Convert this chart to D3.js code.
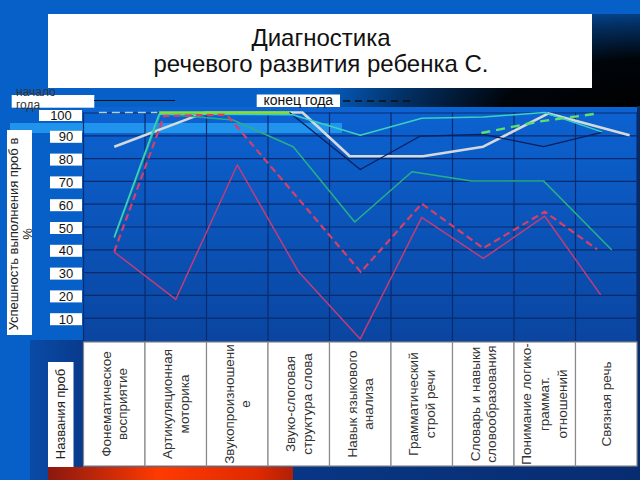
<!DOCTYPE html>
<html><head><meta charset="utf-8">
<script src="https://cdn.jsdelivr.net/npm/d3@7"></script>
<style>html,body{margin:0;padding:0;background:#0660c8;} svg{display:block;font-family:"Liberation Sans",Arial,sans-serif;}</style>
</head><body><svg id="c" width="640" height="480"></svg>
<script>
const titleLines = ["Диагностика", "речевого развития ребенка С."];
const categories = [
  ["Фонематическое","восприятие"],
  ["Артикуляционная","моторика"],
  ["Звукопроизношени","е"],
  ["Звуко-слоговая","структура слова"],
  ["Навык языкового","анализа"],
  ["Грамматический","строй речи"],
  ["Словарь и навыки","словообразования"],
  ["Понимание логико-","граммат.","отношений"],
  ["Связная речь"]
];
const yTicks = [100,90,80,70,60,50,40,30,20,10];
const yTitle = ["Успешность выполнения проб в", "%"];
const xTitle = "Названия проб";
const legendStart = ["начало", "года"];
const legendEnd = "конец года";

// series values: [category position, percent]
const redSolid    = [[0,38.8],[1,18],[2,77],[3,30],[4,0.7],[5,54],[6,36],[7,54.5],[7.91,20]];
const redDashed   = [[0,39],[0.81,98.5],[1.83,99],[4.01,30],[5,60],[6,40.5],[7,56.5],[7.85,40]];
const turquoise   = [[0,45.4],[0.73,99.3],[2.9,99],[4,90],[5,97.5],[6,98],[7,100],[7.93,91.5]];
const seaGreen    = [[0,45],[0.75,99.5],[1.93,96.7],[2.91,85],[3.91,52],[4.84,74],[5.81,70],[6.98,70],[8.09,39.7]];
const navyLine    = [[1.5,100],[2.85,100],[4,75],[4.97,89.6],[6,90.4],[6.98,85],[7.93,91.3]];
const whiteLine   = [[0,85],[1.32,98.4],[1.5,100],[3.06,100],[3.83,80.8],[5.02,80.8],[6,85],[7.06,99.6],[8.38,90]];
const limeTop     = [[0.73,100],[2.85,100]];
const paleDashed  = [[-0.25,100],[0.7,100]];
const greenDashed = [[5.97,91],[6.9,96],[7.87,99.6]];

const svg = d3.select("#c");
const defs = svg.append("defs");

function linGrad(id, x1,y1,x2,y2, stops){
  const g = defs.append("linearGradient").attr("id",id)
    .attr("x1",x1).attr("y1",y1).attr("x2",x2).attr("y2",y2);
  stops.forEach(s=>g.append("stop").attr("offset",s[0]).attr("stop-color",s[1]).attr("stop-opacity", s[2]==null?1:s[2]));
}
linGrad("plotBg","0","0","0","1",[[0,"#0c63d2"],[1,"#0a45a0"]]);
linGrad("lowBg","0","0","1","0",[[0,"#083d92"],[1,"#082c70"]]);
linGrad("leftLow","0","0","1","0",[[0,"#0a4ba6"],[1,"#083a8c"]]);
linGrad("redStrip","0","0","1","0",[[0,"#8a1810"],[0.45,"#ff3a00"],[0.85,"#e02a00"],[1,"#b02008"]]);
const rg = defs.append("radialGradient").attr("id","dark")
  .attr("gradientUnits","userSpaceOnUse").attr("cx",655).attr("cy",110).attr("r",340)
  .attr("gradientTransform","translate(655,110) scale(1,0.34) translate(-655,-110)");
[[0,1],[0.45,0.95],[0.75,0.5],[1,0]].forEach(s=>rg.append("stop").attr("offset",s[0]).attr("stop-color","#000").attr("stop-opacity",s[1]));

// background
svg.append("rect").attr("width",640).attr("height",480).attr("fill","#0660c8");
svg.append("rect").attr("x",0).attr("y",14).attr("width",640).attr("height",98).attr("fill","url(#dark)");
svg.append("rect").attr("x",30).attr("y",340).attr("width",54).attr("height",140).attr("fill","url(#leftLow)");
svg.append("rect").attr("x",84).attr("y",340).attr("width",556).attr("height",140).attr("fill","url(#lowBg)");
svg.append("rect").attr("x",637).attr("y",106).attr("width",3).attr("height",240).attr("fill","#0a2a66");
svg.append("rect").attr("x",48).attr("y",467).attr("width",245).attr("height",13).attr("fill","url(#redStrip)");

// title
svg.append("rect").attr("x",48).attr("y",14).attr("width",544).attr("height",74).attr("fill","#fff");
svg.append("g").selectAll("text").data(titleLines).join("text")
  .attr("x",321).attr("y",(d,i)=>46+i*26).attr("text-anchor","middle")
  .attr("font-size",24).attr("fill","#111").text(d=>d);

// scales
const x = d3.scaleBand().domain(d3.range(categories.length)).range([83.5,637]);
const bw = x.bandwidth();
const xi = d3.scaleLinear().domain([0,categories.length-1]).range([x(0)+bw/2, x(categories.length-1)+bw/2]);
const y = d3.scaleLinear().domain([0,100]).range([340.5,112.5]);

// plot background
svg.append("rect").attr("x",83.5).attr("y",107).attr("width",637-83.5).attr("height",234).attr("fill","url(#plotBg)");
// highlight band
svg.append("rect").attr("x",10).attr("y",123).attr("width",332).attr("height",10).attr("fill","#2094ec");

// grid
const grid = svg.append("g").attr("transform","translate(83.5,0)")
  .call(d3.axisLeft(y).tickValues(yTicks).tickSize(-(637-83.5)).tickFormat(""));
grid.select(".domain").remove();
grid.selectAll("line").attr("stroke","#0a2a6e").attr("stroke-width",1.2);
svg.append("g").selectAll("line").data(d3.range(categories.length+1)).join("line")
  .attr("x1",i=>83.5+i*bw).attr("x2",i=>83.5+i*bw).attr("y1",112.5).attr("y2",342)
  .attr("stroke","#0a2a6e").attr("stroke-width",1.2);

// category boxes
const cg = svg.append("g").selectAll("g").data(categories).join("g");
cg.append("rect").attr("x",(d,i)=>x(i)).attr("y",342).attr("width",bw).attr("height",124)
  .attr("fill","#fff").attr("stroke","#8a8a8a").attr("stroke-width",1.2);
cg.each(function(lines,i){
  const lh = lines.length>2 ? 18 : 16.5;
  const g = d3.select(this).append("g").attr("transform",`translate(${x(i)+bw/2},404) rotate(-90)`);
  g.selectAll("text").data(lines).join("text")
    .attr("x",0).attr("y",(d,k)=>(k-(lines.length-1)/2)*lh)
    .attr("dominant-baseline","central").attr("text-anchor","middle")
    .attr("font-size",13.5).attr("fill","#333").text(d=>d);
});

// y tick label boxes
const yl = svg.append("g").selectAll("g").data(yTicks).join("g");
yl.append("rect").attr("x",d=>d>=100?39:50).attr("y",d=>y(d)+(d>=100?-2.5:-4.5))
  .attr("width",d=>d>=100?43:32).attr("height",d=>d>=100?11:12).attr("fill","#fff");
yl.append("text").attr("x",d=>d>=100?61:66).attr("y",d=>y(d)+(d>=100?3:1.5))
  .attr("dominant-baseline","central").attr("text-anchor","middle")
  .attr("font-size",13).attr("fill","#111").text(d=>d);

// y title
svg.append("rect").attr("x",7).attr("y",130).attr("width",25).attr("height",205).attr("fill","#fff");
const yt = svg.append("g").attr("transform","translate(20.5,234) rotate(-90)");
yt.selectAll("text").data(yTitle).join("text")
  .attr("x",0).attr("y",(d,k)=>(k-0.5)*14.5).attr("dominant-baseline","central")
  .attr("text-anchor","middle").attr("font-size",13).attr("fill","#222").text(d=>d);

// x title
svg.append("rect").attr("x",48).attr("y",362).attr("width",25.5).attr("height",105).attr("fill","#fff");
svg.append("text").attr("transform","translate(60.5,414) rotate(-90)")
  .attr("dominant-baseline","central").attr("text-anchor","middle")
  .attr("font-size",13).attr("fill","#222").text(xTitle);

// legend
svg.append("rect").attr("x",11.7).attr("y",95).attr("width",82.6).attr("height",12.7).attr("fill","#fff");
svg.append("g").selectAll("text").data(legendStart).join("text")
  .attr("x",16).attr("y",(d,i)=>96+i*13).attr("font-size",12).attr("fill","#333").text(d=>d);
svg.append("line").attr("x1",94).attr("x2",175).attr("y1",100.5).attr("y2",100.5).attr("stroke","#111").attr("stroke-width",1);
svg.append("rect").attr("x",256.7).attr("y",94.5).attr("width",83.3).attr("height",12.5).attr("fill","#fff");
svg.append("text").attr("x",298.3).attr("y",105).attr("text-anchor","middle")
  .attr("font-size",14).attr("fill","#111").text(legendEnd);
svg.append("line").attr("x1",343).attr("x2",414).attr("y1",101).attr("y2",101)
  .attr("stroke","#111").attr("stroke-width",1.6).attr("stroke-dasharray","7,5");

// redraw "100" box over legend text overflow
svg.append("rect").attr("x",39).attr("y",y(100)-2.5).attr("width",43).attr("height",11).attr("fill","#fff");
svg.append("text").attr("x",61).attr("y",y(100)+3).attr("dominant-baseline","central")
  .attr("text-anchor","middle").attr("font-size",13).attr("fill","#111").text(yTicks[0]);

// lines
const line = d3.line().x(d=>xi(d[0])).y(d=>y(d[1]));
const series = [
  {d:whiteLine, c:"#d4dadc", w:2.6},
  {d:navyLine, c:"#0a1e5c", w:1.3},
  {d:seaGreen, c:"#27b088", w:1.5},
  {d:turquoise, c:"#3cd0c0", w:1.5},
  {d:limeTop, c:"#86e030", w:2.6},
  {d:paleDashed, c:"#a8d4dc", w:1.6, dash:"8,5"},
  {d:greenDashed, c:"#5ee070", w:2.4, dash:"9,6"},
  {d:redSolid, c:"#c03c7a", w:1.5},
  {d:redDashed, c:"#d4406c", w:2.2, dash:"7,4"}
];
svg.append("g").selectAll("path").data(series).join("path")
  .attr("d",s=>line(s.d)).attr("fill","none").attr("stroke",s=>s.c)
  .attr("stroke-width",s=>s.w).attr("stroke-dasharray",s=>s.dash||null)
  .attr("stroke-linejoin","round");
</script></body></html>
